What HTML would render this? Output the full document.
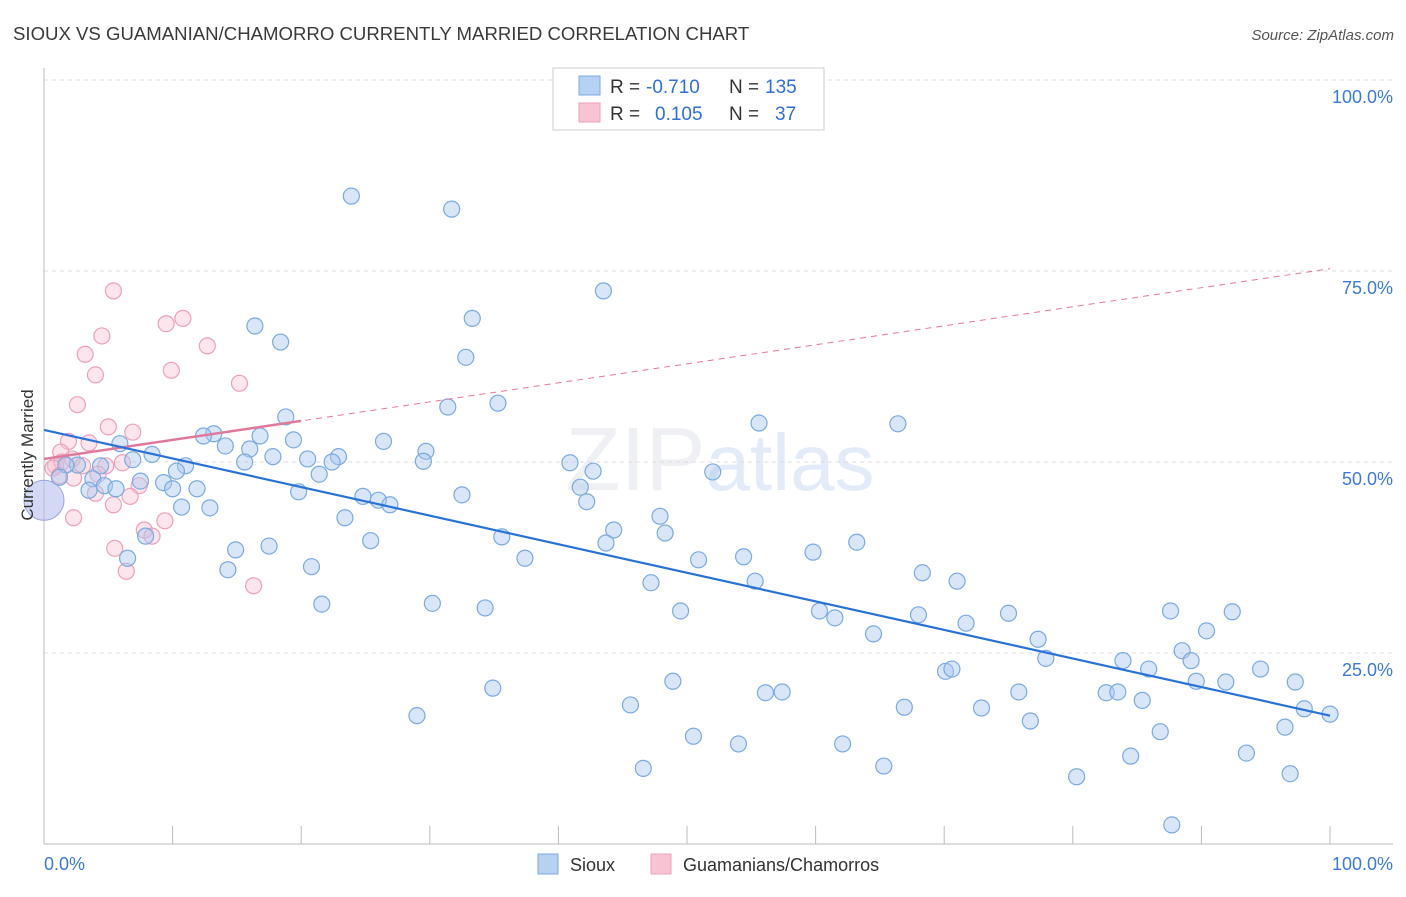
<!DOCTYPE html>
<html><head><meta charset="utf-8"><style>
body{margin:0;background:#fff;font-family:"Liberation Sans",sans-serif;}
svg text{font-family:"Liberation Sans",sans-serif;}
</style></head><body>
<svg id="chart" width="1406" height="892" xmlns="http://www.w3.org/2000/svg">
<text x="13" y="40" font-size="18.6" fill="#3a3a3a">SIOUX VS GUAMANIAN/CHAMORRO CURRENTLY MARRIED CORRELATION CHART</text>
<text x="1394" y="40" font-size="15" fill="#555" font-style="italic" text-anchor="end">Source: ZipAtlas.com</text>
<text x="720" y="490" font-size="90" fill="#eef0f4" text-anchor="middle" font-family="Liberation Serif">ZIP<tspan fill="#e2ebf7" font-family="Liberation Sans" font-size="80">atlas</tspan></text>
<g id="grid"></g>
<g id="axes"></g>
<g id="marks"></g>
<text transform="translate(33,455) rotate(-90)" font-size="17" fill="#333" text-anchor="middle">Currently Married</text>
<g>
<rect x="553" y="68" width="271" height="62" fill="#fff" stroke="#ccc"/>
<rect x="579" y="76" width="21" height="19" fill="#b7d1f3" stroke="#7aaae0"/>
<rect x="579" y="103" width="21" height="19" fill="#f8c4d4" stroke="#eea0b8"/>
<text x="610" y="93" font-size="19" fill="#333">R =</text>
<text x="646" y="93" font-size="19" fill="#2f6fd6">-0.710</text>
<text x="729" y="93" font-size="19" fill="#333">N =</text>
<text x="765" y="93" font-size="19" fill="#2f6fd6">135</text>
<text x="610" y="120" font-size="19" fill="#333">R =</text>
<text x="655" y="120" font-size="19" fill="#2f6fd6">0.105</text>
<text x="729" y="120" font-size="19" fill="#333">N =</text>
<text x="775" y="120" font-size="19" fill="#2f6fd6">37</text>
</g>
<g>
<rect x="538" y="854" width="20" height="20" fill="#b7d1f3" stroke="#7aaae0"/>
<text x="570" y="871" font-size="18" fill="#333">Sioux</text>
<rect x="651" y="854" width="20" height="20" fill="#f8c4d4" stroke="#eea0b8"/>
<text x="683" y="871" font-size="18" fill="#333">Guamanians/Chamorros</text>
</g>
</svg>
<script>
const yTicks=[25,50,75,100];
const yTickLabels=["25.0%","50.0%","75.0%","100.0%"];
const xTickLabels=["0.0%","100.0%"];
const siouxX=[23.9,31.7,43.5,33.3,16.4,18.4,32.8,31.4,35.3,18.8,55.6,66.4,13.2,16.8,26.4,19.4,5.9,29.7,12.4,14.1,16.0,8.4,6.9,15.6,17.8,20.5,22.9,22.4,29.5,40.9,42.7,52.0,11.0,10.3,4.4,2.6,1.7,3.8,1.2,7.5,9.3,10.0,11.9,4.7,5.6,3.5,19.8,21.4,24.8,26.0,26.9,32.5,41.7,42.2,10.7,12.9,23.4,47.9,44.3,43.7,48.3,35.6,25.4,14.9,17.5,6.5,7.9,37.4,50.9,54.4,59.8,63.2,14.3,20.8,47.2,55.3,68.3,71.0,21.6,30.2,34.3,49.5,60.3,61.5,68.0,71.7,75.0,87.6,92.4,64.5,90.4,77.3,77.9,83.9,85.9,88.5,89.2,94.6,70.1,70.6,97.3,89.6,91.9,48.9,34.9,56.1,57.4,75.8,82.6,83.5,29.0,45.6,66.9,72.9,85.4,76.7,98.0,100,96.5,50.5,54.0,62.1,86.8,84.5,93.5,46.6,65.3,80.3,96.9,87.7];
const siouxY=[84.8,83.1,72.4,68.8,67.8,65.7,63.7,57.2,57.7,55.9,55.1,55.0,53.7,53.4,52.7,52.9,52.4,51.4,53.4,52.1,51.7,51.0,50.3,50.0,50.7,50.4,50.7,50.0,50.1,49.9,48.8,48.7,49.5,48.8,49.5,49.6,49.6,47.8,48.0,47.5,47.3,46.5,46.5,46.9,46.5,46.3,46.1,48.4,45.5,45.0,44.4,45.7,46.7,44.8,44.1,44.0,42.7,42.9,41.1,39.4,40.7,40.2,39.7,38.5,39.0,37.4,40.3,37.4,37.2,37.6,38.2,39.5,35.9,36.3,34.2,34.4,35.5,34.4,31.4,31.5,30.9,30.5,30.5,29.6,30.0,28.9,30.2,30.5,30.4,27.5,27.9,26.8,24.3,24.0,22.9,25.3,24.0,22.9,22.6,22.9,21.2,21.3,21.2,21.3,20.4,19.8,19.9,19.9,19.8,19.9,16.8,18.2,17.9,17.8,18.8,16.1,17.7,17.0,15.3,14.1,13.1,13.1,14.7,11.5,11.9,9.9,10.2,8.8,9.2,2.5];
const guamX=[5.4,9.5,10.8,4.5,3.2,9.9,12.7,4.0,15.2,2.6,5.0,6.9,1.9,3.5,1.3,2.2,0.9,1.4,0.7,3.0,4.8,6.1,4.2,1.2,2.3,7.4,4.0,6.7,5.4,7.8,8.4,9.4,2.3,5.5,6.4,16.3];
const guamY=[72.4,68.1,68.8,66.5,64.1,62.0,65.2,61.4,60.3,57.5,54.6,53.9,52.7,52.5,51.3,50.4,49.5,50.0,49.2,49.5,49.5,49.9,48.4,48.2,47.9,46.9,45.9,45.5,44.4,41.1,40.3,42.3,42.7,38.7,35.7,33.8];
const siouxTrend=[54.2,16.8];
const guamTrend=[50.4,75.3];
const NS="http://www.w3.org/2000/svg";
const X=v=>44+v*12.86, Y=v=>844-v*7.64;
function mk(tag,attrs,parent){const e=document.createElementNS(NS,tag);for(const k in attrs)e.setAttribute(k,attrs[k]);document.getElementById(parent).appendChild(e);return e;}
yTicks.forEach((t,i)=>{
 const g=mk('line',{x1:44,x2:1393,y1:Y(t),y2:Y(t),stroke:'#ddd','stroke-dasharray':'4,4'},'grid');
 
 
 const l=mk('text',{x:1393,y:Y(t)+23,'font-size':18,fill:'#3b7ad9','text-anchor':'end'},'axes');
 l.textContent=yTickLabels[i];
 
 
});
const ax=mk('line',{x1:44,x2:1393,y1:844,y2:844,stroke:'#bbb'},'axes');


const ay=mk('line',{x1:44,x2:44,y1:68,y2:844,stroke:'#bbb'},'axes');


for(let i=1;i<=10;i++){
 const t=mk('line',{x1:X(i*10),x2:X(i*10),y1:826,y2:844,stroke:'#bbb'},'axes');
 
 
}
[[0,'start',44],[100,'end',1393]].forEach((d,i)=>{
 const l=mk('text',{x:d[2],y:870,'font-size':18,fill:'#3b7ad9','text-anchor':d[1]},'axes');
 l.textContent=xTickLabels[i];
 
 
});
const big=mk('circle',{cx:X(0),cy:Y(45),r:20,fill:'rgba(175,185,235,0.55)',stroke:'#9aa6dc'},'marks');


guamX.forEach((x,i)=>{
 const c=mk('circle',{cx:X(x),cy:Y(guamY[i]),r:8,fill:'rgba(248,190,208,0.4)',stroke:'#eea0b8','stroke-width':1.2},'marks');
 
 
});
siouxX.forEach((x,i)=>{
 const c=mk('circle',{cx:X(x),cy:Y(siouxY[i]),r:8,fill:'rgba(170,200,240,0.45)',stroke:'#7aaae0','stroke-width':1.2},'marks');
 
 
});
const gd=mk('line',{x1:X(0),y1:Y(guamTrend[0]),x2:X(100),y2:Y(guamTrend[1]),stroke:'#e07a9c','stroke-dasharray':'6,5','stroke-width':1},'marks');


const gs=guamTrend[0]+(guamTrend[1]-guamTrend[0])*0.2;
const gt=mk('line',{x1:X(0),y1:Y(guamTrend[0]),x2:X(20),y2:Y(gs),stroke:'#e07a9c','stroke-width':2.5},'marks');


const st=mk('line',{x1:X(0),y1:Y(siouxTrend[0]),x2:X(100),y2:Y(siouxTrend[1]),stroke:'#2a72d8','stroke-width':2.2},'marks');


</script>
</body></html>
